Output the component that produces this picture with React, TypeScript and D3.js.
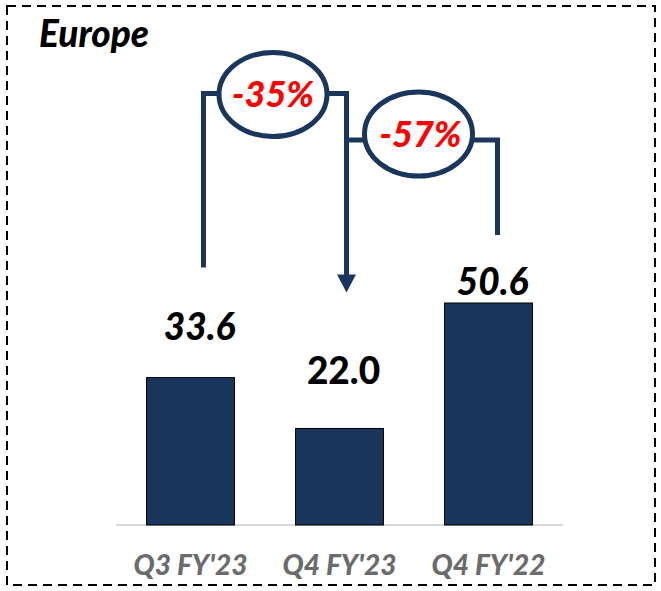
import React from "react";
import * as d3 from "d3";

const categories = ["Q3 FY'23", "Q4 FY'23", "Q4 FY'22"];
const values = [33.6, 22.0, 50.6];
const valueLabels = ["33.6", "22.0", "50.6"];
const labelItalic = [true, false, true];
const changeLabels = ["-35%", "-57%"];

const W = 661;
const H = 591;
const NAVY = "#1b365d";
const FONT = "Lato, 'Open Sans', sans-serif";
const HEAVY = 900;

// layout-only offsets (annotation placement, pixels)
const labelDx = [9, 4, 4];
const labelDy = [38, 44, 8];
const connDx = [13, 7, 9];
const connBottomGap = [110, 136, 68];

export default function App() {
  const x = d3.scaleBand<string>().domain(categories).range([116, 563]).paddingInner(0.41).paddingOuter(0.205);
  const y = d3.scaleLinear().domain([0, 50.6]).range([525, 303]);
  const cx = (i: number) => (x(categories[i]) as number) + x.bandwidth() / 2;

  const ax = [0, 1, 2].map((i) => cx(i) + connDx[i]);
  const ab = [0, 1, 2].map((i) => y(values[i]) - connBottomGap[i]);

  const e1 = { cx: 273, cy: 94.5, rx: 54, ry: 42 };
  const e2 = { cx: 418.5, cy: 134, rx: 54, ry: 42 };
  const l1y = 93.5;
  const l2y = 140;

  const path1 = d3.path();
  path1.moveTo(ax[0], ab[0]);
  path1.lineTo(ax[0], l1y);
  path1.lineTo(e1.cx - e1.rx, l1y);
  const path1b = d3.path();
  path1b.moveTo(e1.cx + e1.rx, l1y);
  path1b.lineTo(ax[1], l1y);
  path1b.lineTo(ax[1], ab[1] - 16);

  const path2 = d3.path();
  path2.moveTo(ax[1], l2y);
  path2.lineTo(e2.cx - e2.rx, l2y);
  const path2b = d3.path();
  path2b.moveTo(e2.cx + e2.rx, l2y);
  path2b.lineTo(ax[2], l2y);
  path2b.lineTo(ax[2], ab[2]);

  const tip = ab[1];
  const head = `M${ax[1]},${tip} L${ax[1] - 9.5},${tip - 18} L${ax[1] + 9.5},${tip - 18} Z`;

  return (
    <svg width={W} height={H} style={{ position: "absolute", left: 0, top: 0, background: "#fff" }}>
      <rect x={7} y={6} width={648} height={579} fill="none" stroke="#000" strokeWidth={2} strokeDasharray="9 6" />
      <text x={39} y={47} fontFamily={FONT} fontWeight={HEAVY} fontStyle="italic" fontSize={37} fill="#000">
        Europe
      </text>

      <line x1={116} x2={563} y1={525} y2={525} stroke="#d9d9d9" strokeWidth={2} />
      {categories.map((c, i) => (
        <rect
          key={c}
          x={x(c)}
          y={y(values[i])}
          width={x.bandwidth()}
          height={y(0) - y(values[i])}
          fill={NAVY}
          stroke="#000"
          strokeWidth={1}
        />
      ))}
      {categories.map((c, i) => (
        <text
          key={"v" + c}
          x={cx(i) + labelDx[i]}
          y={y(values[i]) - labelDy[i]}
          textAnchor="middle"
          fontFamily={FONT}
          fontWeight={HEAVY}
          fontStyle={labelItalic[i] ? "italic" : "normal"}
          fontSize={37}
          fill="#000"
        >
          {valueLabels[i]}
        </text>
      ))}
      {categories.map((c, i) => (
        <text
          key={"c" + c}
          x={cx(i)}
          y={575}
          textAnchor="middle"
          fontFamily={FONT}
          fontWeight={HEAVY}
          fontStyle="italic"
          fontSize={28}
          fill="#6b6b6b"
        >
          {c}
        </text>
      ))}

      <g fill="none" stroke={NAVY} strokeWidth={5}>
        <path d={path1.toString()} />
        <path d={path1b.toString()} />
        <path d={path2.toString()} />
        <path d={path2b.toString()} />
        <ellipse cx={e1.cx} cy={e1.cy} rx={e1.rx} ry={e1.ry} fill="#fff" />
        <ellipse cx={e2.cx} cy={e2.cy} rx={e2.rx} ry={e2.ry} fill="#fff" />
      </g>
      <path d={head} fill={NAVY} />
      <text x={e1.cx} y={e1.cy + 12} textAnchor="middle" fontFamily={FONT} fontWeight={HEAVY} fontStyle="italic" fontSize={36} fill="#ff0000">
        {changeLabels[0]}
      </text>
      <text x={e2.cx + 2} y={e2.cy + 13} textAnchor="middle" fontFamily={FONT} fontWeight={HEAVY} fontStyle="italic" fontSize={36} fill="#ff0000">
        {changeLabels[1]}
      </text>
    </svg>
  );
}
